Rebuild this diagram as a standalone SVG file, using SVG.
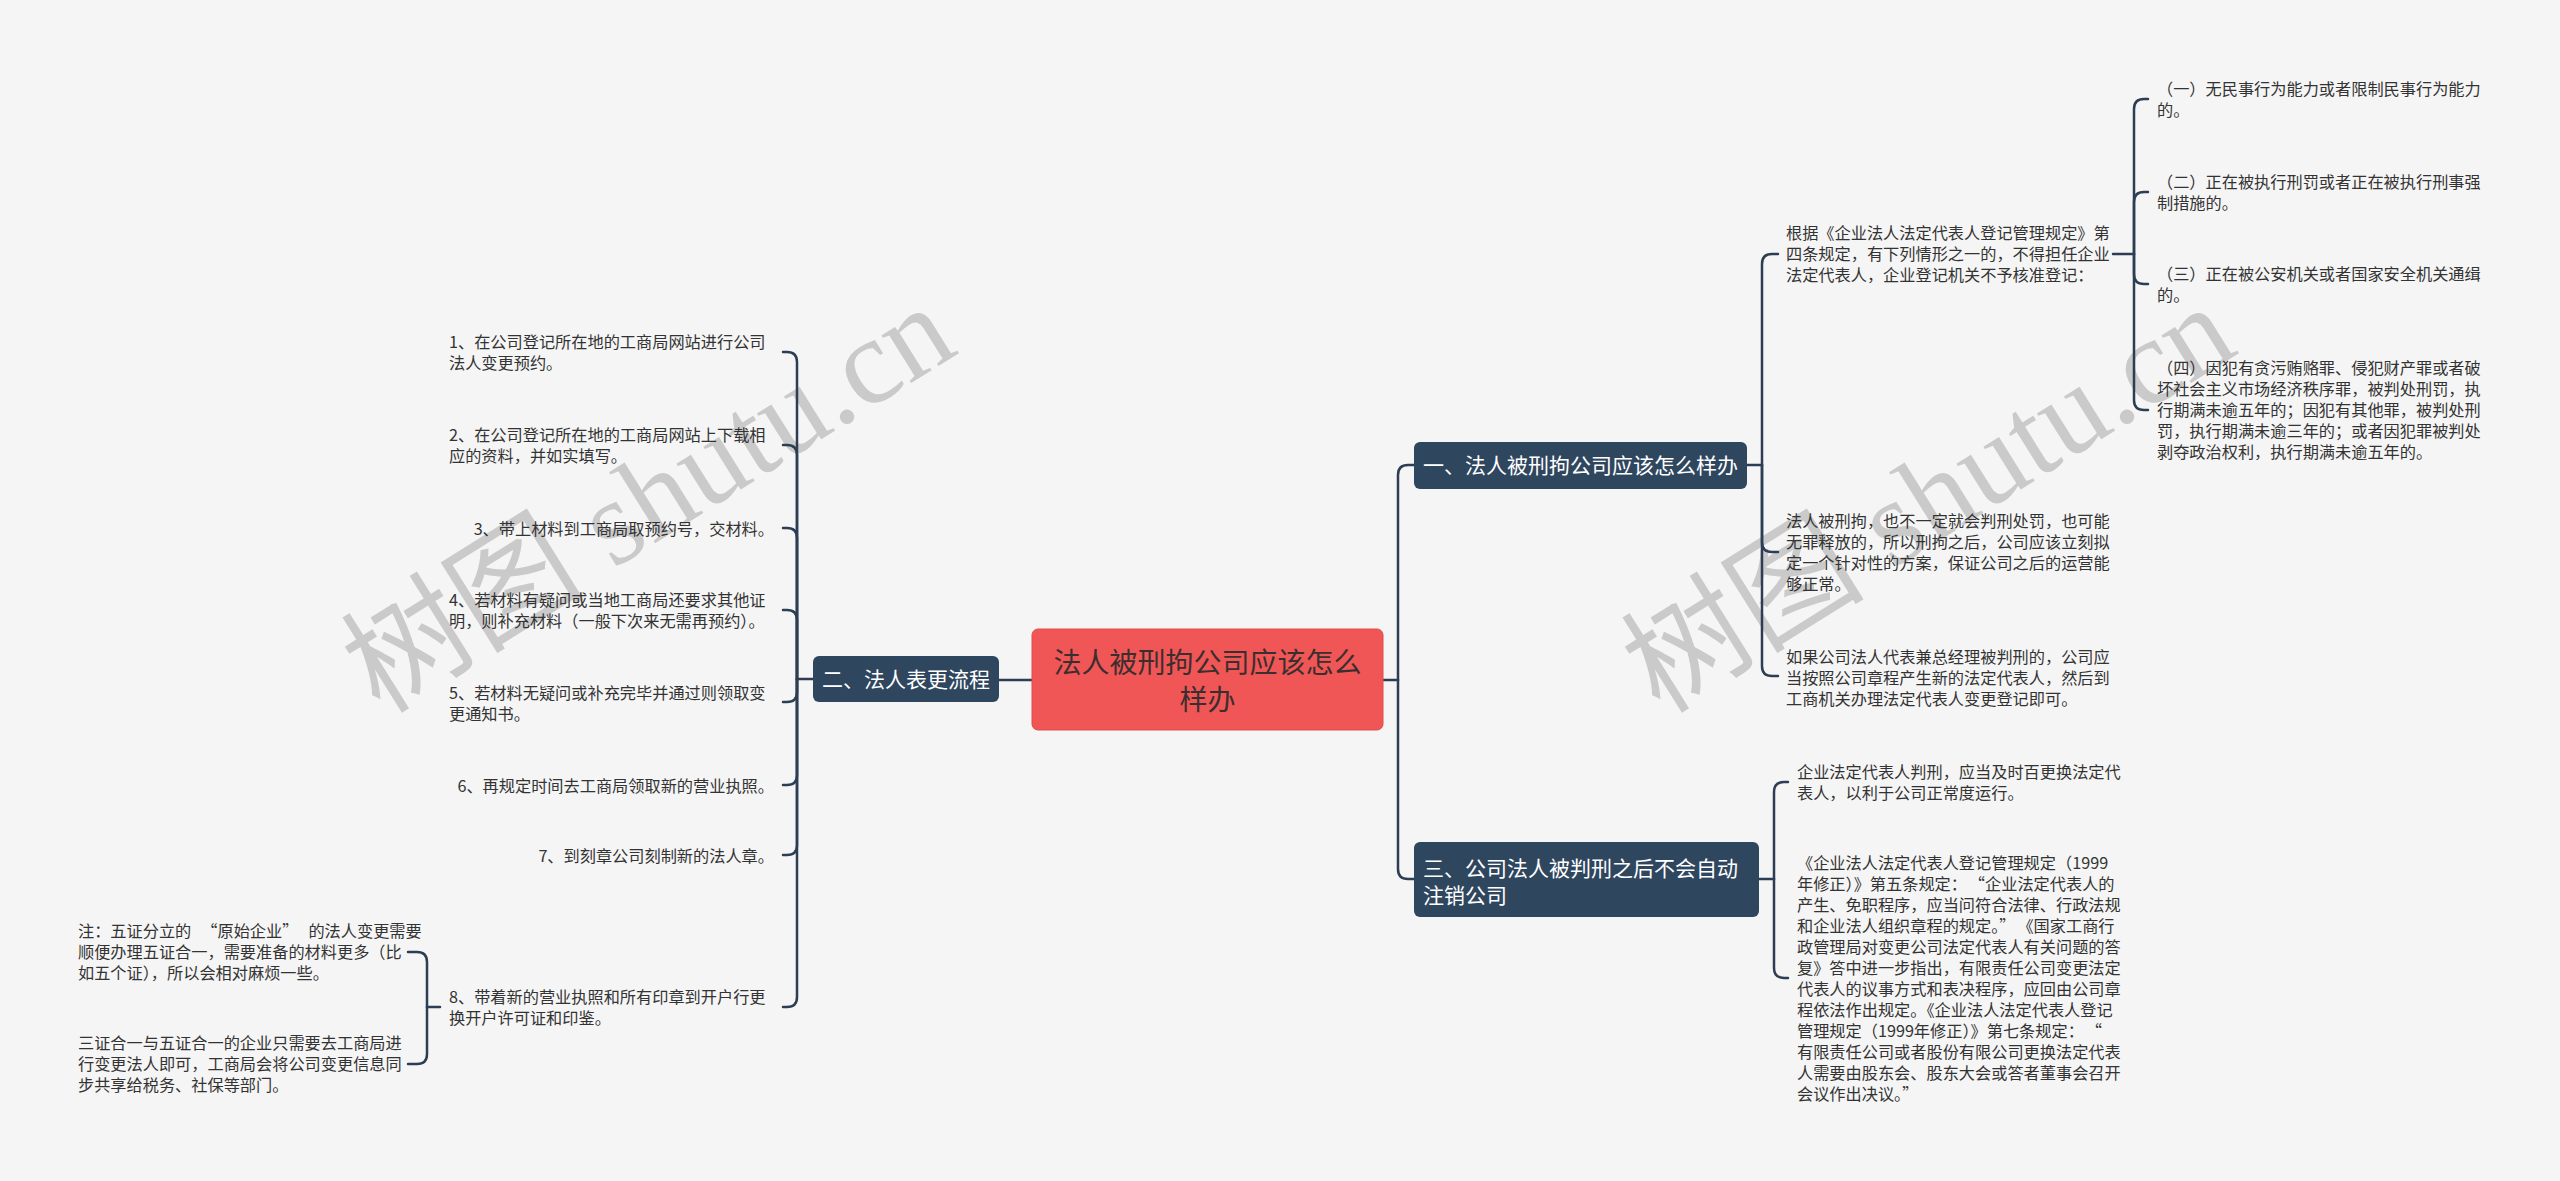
<svg xmlns="http://www.w3.org/2000/svg" width="2560" height="1181" viewBox="0 0 2560 1181">
<style>
.bg{fill:#f5f5f5}
.wm{font-family:"Liberation Serif","Noto Sans CJK SC",serif;font-size:122px;fill:#cacaca}
.root{fill:#f05656;stroke:#e24a4a;stroke-width:1}
.roott{font-family:"Noto Sans CJK SC",sans-serif;font-size:28px;fill:#3a2e2e;text-anchor:middle}
.br{fill:#2f465f}
.brt{font-family:"Noto Sans CJK SC",sans-serif;font-size:21px;fill:#ffffff}
.lf{font-family:"Noto Sans CJK SC",sans-serif;font-size:16.2px;fill:#333333}
.end{text-anchor:end}
.cn{fill:none;stroke:#2c3e54;stroke-width:2.5;stroke-linecap:round;stroke-linejoin:round}
</style>
<rect class="bg" x="0" y="0" width="2560" height="1181"/>
<g id="watermarks">
<text class="wm" transform="translate(380,715) rotate(-32)">树图 shutu.cn</text>
<text class="wm" transform="translate(1660,715) rotate(-32)">树图 shutu.cn</text>
</g>
<g id="connectors" class="cn">
<path d="M1032,680 H999"/>
<path d="M813,679 H797"/>
<path d="M797,679 V362 Q797,352 787,352 H783"/>
<path d="M797,679 V455 Q797,445 787,445 H783"/>
<path d="M797,679 V538 Q797,528 787,528 H783"/>
<path d="M797,679 V620 Q797,610 787,610 H783"/>
<path d="M797,679 V692 Q797,702 787,702 H783"/>
<path d="M797,679 V775 Q797,785 787,785 H783"/>
<path d="M797,679 V845 Q797,855 787,855 H783"/>
<path d="M797,679 V997 Q797,1007 787,1007 H783"/>
<path d="M440,1007 H427"/>
<path d="M427,1007 V962 Q427,952 417,952 H408"/>
<path d="M427,1007 V1054 Q427,1064 417,1064 H408"/>
<path d="M1383,680 H1398"/>
<path d="M1398,680 V475 Q1398,465 1408,465 H1414"/>
<path d="M1398,680 V869 Q1398,879 1408,879 H1414"/>
<path d="M1747,465 H1762"/>
<path d="M1762,465 V264 Q1762,254 1772,254 H1778"/>
<path d="M1762,465 V542 Q1762,552 1772,552 H1778"/>
<path d="M1762,465 V666 Q1762,676 1772,676 H1778"/>
<path d="M2113,254 H2134"/>
<path d="M2134,254 V109 Q2134,99 2144,99 H2148"/>
<path d="M2134,254 V202 Q2134,192 2144,192 H2148"/>
<path d="M2134,254 V274 Q2134,284 2144,284 H2148"/>
<path d="M2134,254 V400 Q2134,410 2144,410 H2148"/>
<path d="M1759,879 H1774"/>
<path d="M1774,879 V792 Q1774,782 1784,782 H1788"/>
<path d="M1774,879 V968 Q1774,978 1784,978 H1788"/>
</g>
<g id="root">
<rect class="root" x="1032" y="629" width="351" height="101" rx="6"/>
<text class="roott"><tspan x="1207.5" y="673">法人被刑拘公司应该怎么</tspan><tspan x="1207.5" y="710">样办</tspan></text>
</g>
<g id="branch2">
<rect class="br" x="813" y="656" width="186" height="46" rx="6"/>
<text class="brt" x="906" y="687" text-anchor="middle">二、法人表更流程</text>
</g>
<g id="branch1">
<rect class="br" x="1414" y="442" width="333" height="47" rx="6"/>
<text class="brt" x="1580.5" y="473" text-anchor="middle">一、法人被刑拘公司应该怎么样办</text>
</g>
<g id="branch3">
<rect class="br" x="1414" y="842" width="345" height="75" rx="6"/>
<text class="brt"><tspan x="1423" y="876">三、公司法人被判刑之后不会自动</tspan><tspan x="1423" y="903">注销公司</tspan></text>
</g>
<g id="step1"><text class="lf"><tspan x="449" y="348">1、在公司登记所在地的工商局网站进行公司</tspan><tspan x="449" y="369">法人变更预约。</tspan></text></g>
<g id="step2"><text class="lf"><tspan x="449" y="441">2、在公司登记所在地的工商局网站上下载相</tspan><tspan x="449" y="462">应的资料，并如实填写。</tspan></text></g>
<g id="step3"><text class="lf end" x="774" y="535">3、带上材料到工商局取预约号，交材料。</text></g>
<g id="step4"><text class="lf"><tspan x="449" y="606">4、若材料有疑问或当地工商局还要求其他证</tspan><tspan x="449" y="627">明，则补充材料（一般下次来无需再预约）。</tspan></text></g>
<g id="step5"><text class="lf"><tspan x="449" y="699">5、若材料无疑问或补充完毕并通过则领取变</tspan><tspan x="449" y="720">更通知书。</tspan></text></g>
<g id="step6"><text class="lf end" x="774" y="792">6、再规定时间去工商局领取新的营业执照。</text></g>
<g id="step7"><text class="lf end" x="774" y="862">7、到刻章公司刻制新的法人章。</text></g>
<g id="step8"><text class="lf"><tspan x="449" y="1003">8、带着新的营业执照和所有印章到开户行更</tspan><tspan x="449" y="1024">换开户许可证和印鉴。</tspan></text></g>
<g id="note1"><text class="lf"><tspan x="78" y="937">注：五证分立的<tspan dx="10">“</tspan>原始企业”<tspan dx="10">的法人变更需要</tspan></tspan><tspan x="78" y="958">顺便办理五证合一，需要准备的材料更多（比</tspan><tspan x="78" y="979">如五个证），所以会相对麻烦一些。</tspan></text></g>
<g id="note2"><text class="lf"><tspan x="78" y="1049">三证合一与五证合一的企业只需要去工商局进</tspan><tspan x="78" y="1070">行变更法人即可，工商局会将公司变更信息同</tspan><tspan x="78" y="1091">步共享给税务、社保等部门。</tspan></text></g>
<g id="itemA"><text class="lf"><tspan x="1786" y="239">根据《企业法人法定代表人登记管理规定》第</tspan><tspan x="1786" y="260">四条规定，有下列情形之一的，不得担任企业</tspan><tspan x="1786" y="281">法定代表人，企业登记机关不予核准登记：</tspan></text></g>
<g id="itemB"><text class="lf"><tspan x="1786" y="527">法人被刑拘，也不一定就会判刑处罚，也可能</tspan><tspan x="1786" y="548">无罪释放的，所以刑拘之后，公司应该立刻拟</tspan><tspan x="1786" y="569">定一个针对性的方案，保证公司之后的运营能</tspan><tspan x="1786" y="590">够正常。</tspan></text></g>
<g id="itemC"><text class="lf"><tspan x="1786" y="663">如果公司法人代表兼总经理被判刑的，公司应</tspan><tspan x="1786" y="684">当按照公司章程产生新的法定代表人，然后到</tspan><tspan x="1786" y="705">工商机关办理法定代表人变更登记即可。</tspan></text></g>
<g id="sub1"><text class="lf"><tspan x="2157" y="95">（一）无民事行为能力或者限制民事行为能力</tspan><tspan x="2157" y="116">的。</tspan></text></g>
<g id="sub2"><text class="lf"><tspan x="2157" y="188">（二）正在被执行刑罚或者正在被执行刑事强</tspan><tspan x="2157" y="209">制措施的。</tspan></text></g>
<g id="sub3"><text class="lf"><tspan x="2157" y="280">（三）正在被公安机关或者国家安全机关通缉</tspan><tspan x="2157" y="301">的。</tspan></text></g>
<g id="sub4"><text class="lf"><tspan x="2157" y="374">（四）因犯有贪污贿赂罪、侵犯财产罪或者破</tspan><tspan x="2157" y="395">坏社会主义市场经济秩序罪，被判处刑罚，执</tspan><tspan x="2157" y="416">行期满未逾五年的；因犯有其他罪，被判处刑</tspan><tspan x="2157" y="437">罚，执行期满未逾三年的；或者因犯罪被判处</tspan><tspan x="2157" y="458">剥夺政治权利，执行期满未逾五年的。</tspan></text></g>
<g id="itemD"><text class="lf"><tspan x="1797" y="778">企业法定代表人判刑，应当及时百更换法定代</tspan><tspan x="1797" y="799">表人，以利于公司正常度运行。</tspan></text></g>
<g id="itemE"><text class="lf"><tspan x="1797" y="869">《企业法人法定代表人登记管理规定（1999</tspan><tspan x="1797" y="890">年修正）》第五条规定：<tspan dx="10">“</tspan>企业法定代表人的</tspan><tspan x="1797" y="911">产生、免职程序，应当问符合法律、行政法规</tspan><tspan x="1797" y="932">和企业法人组织章程的规定。”<tspan dx="10">《国家工商行</tspan></tspan><tspan x="1797" y="953">政管理局对变更公司法定代表人有关问题的答</tspan><tspan x="1797" y="974">复》答中进一步指出，有限责任公司变更法定</tspan><tspan x="1797" y="995">代表人的议事方式和表决程序，应回由公司章</tspan><tspan x="1797" y="1016">程依法作出规定。《企业法人法定代表人登记</tspan><tspan x="1797" y="1037">管理规定（1999年修正）》第七条规定：<tspan dx="10">“</tspan></tspan><tspan x="1797" y="1058">有限责任公司或者股份有限公司更换法定代表</tspan><tspan x="1797" y="1079">人需要由股东会、股东大会或答者董事会召开</tspan><tspan x="1797" y="1100">会议作出决议。”</tspan></text></g>
</svg>
